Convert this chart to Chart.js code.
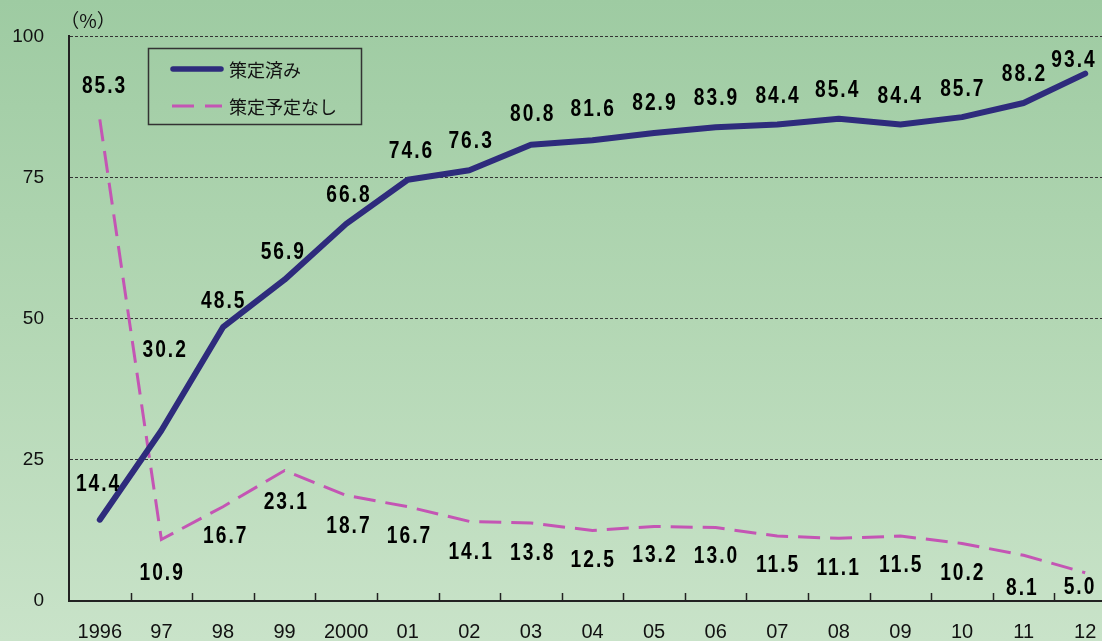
<!DOCTYPE html>
<html lang="ja">
<head>
<meta charset="utf-8">
<script src="https://cdn.jsdelivr.net/npm/chart.js@4"></script>
<style>
  html, body { margin: 0; padding: 0; }
  body {
    width: 1102px; height: 641px; overflow: hidden;
    background: linear-gradient(to bottom, #9ecba2 0%, #b3d7b4 50%, #c9e3c9 100%);
  }
  /* 右端の 2012 年の区画は少しはみ出す */
  #wrap { position: relative; width: 1102px; height: 641px; overflow: hidden; }
</style>
</head>
<body>
<div id="wrap"><canvas id="bcpChart" width="1116" height="641"></canvas></div>
<script>
// 年度ラベル
const years = ['1996', '97', '98', '99', '2000', '01', '02', '03', '04', '05', '06', '07', '08', '09', '10', '11', '12'];
// 策定済み (%)
const doneValues = [14.4, 30.2, 48.5, 56.9, 66.8, 74.6, 76.3, 80.8, 81.6, 82.9, 83.9, 84.4, 85.4, 84.4, 85.7, 88.2, 93.4];
// 策定予定なし (%)
const noPlanValues = [85.3, 10.9, 16.7, 23.1, 18.7, 16.7, 14.1, 13.8, 12.5, 13.2, 13.0, 11.5, 11.1, 11.5, 10.2, 8.1, 5.0];
const yTicks = [0, 25, 50, 75, 100];

// ラベルの位置ずらし (px) — 線と重ならないように個別調整
const doneLabelShift = [[-2, -35], [3, -80], [0, -26], [-2, -27], [2, -28], [3, -28], [1, -29], [1, -30], [0, -31], [0, -30], [0, -29], [0, -28], [-2, -28], [-1, -28], [0, -28], [0, -29], [-12, -13]];
const noPlanLabelShift = [[4, -33], [0, 34], [2, 30], [1, 32], [2, 31], [1, 30], [1, 31], [1, 30], [0, 30], [0, 29], [0, 29], [0, 29], [-1, 30], [0, 29], [0, 30], [-2, 33], [-6, 15]];

const NAVY = '#2e2b7c';
const PINK = '#c455b4';

// 数値ラベルとX軸の内向き目盛りを描く
const labelPlugin = {
    id: 'valueLabels',
    afterDatasetsDraw(chart) {
        const { ctx, chartArea } = chart;
        const xScale = chart.scales.x;
        ctx.save();
        // 内向き目盛り(カテゴリの境目)
        ctx.strokeStyle = '#222';
        ctx.lineWidth = 1.5;
        for (let i = 1; i < years.length; i++) {
            const x = Math.round((xScale.getPixelForValue(i - 1) + xScale.getPixelForValue(i)) / 2) + 0.5;
            ctx.beginPath();
            ctx.moveTo(x, chartArea.bottom);
            ctx.lineTo(x, chartArea.bottom - 8);
            ctx.stroke();
        }
        // 縦長の太字数字(横方向に少し詰める)
        ctx.font = 'bold 24px "Liberation Sans", Arial, sans-serif';
        ctx.letterSpacing = '2.5px';
        ctx.fillStyle = '#000';
        ctx.textAlign = 'center';
        ctx.textBaseline = 'middle';
        const shifts = [doneLabelShift, noPlanLabelShift];
        chart.data.datasets.forEach((ds, di) => {
            chart.getDatasetMeta(di).data.forEach((pt, i) => {
                const [dx, dy] = shifts[di][i];
                ctx.save();
                ctx.translate(pt.x + dx, pt.y + dy);
                ctx.scale(0.8, 1);
                ctx.fillText(ds.data[i].toFixed(1), 1, 0);
                ctx.restore();
            });
        });
        // 単位
        ctx.font = '19px "Noto Sans CJK JP", sans-serif';
        ctx.letterSpacing = '0px';
        ctx.fillStyle = '#111';
        ctx.fillText('（%）', 88, 21);
        ctx.restore();
    }
};

// 凡例(枠付き)
const legendPlugin = {
    id: 'boxLegend',
    afterDraw(chart) {
        const { ctx } = chart;
        ctx.save();
        ctx.strokeStyle = '#333';
        ctx.lineWidth = 1.5;
        ctx.strokeRect(148.5, 48.5, 213, 76);
        ctx.lineCap = 'round';
        ctx.strokeStyle = NAVY;
        ctx.lineWidth = 5.5;
        ctx.beginPath();
        ctx.moveTo(173, 69);
        ctx.lineTo(221, 69);
        ctx.stroke();
        ctx.lineCap = 'butt';
        ctx.strokeStyle = PINK;
        ctx.lineWidth = 3;
        ctx.setLineDash([22, 11]);
        ctx.beginPath();
        ctx.moveTo(172, 106);
        ctx.lineTo(222, 106);
        ctx.stroke();
        ctx.setLineDash([]);
        ctx.fillStyle = '#111';
        ctx.font = '18px "Noto Sans CJK JP", sans-serif';
        ctx.textBaseline = 'middle';
        ctx.fillText('策定済み', 229, 70);
        ctx.fillText('策定予定なし', 229, 107);
        ctx.restore();
    }
};

new Chart(document.getElementById('bcpChart'), {
    type: 'line',
    data: {
        labels: years,
        datasets: [
            {
                label: '策定済み',
                data: doneValues,
                borderColor: NAVY,
                borderWidth: 6,
                borderCapStyle: 'round',
                borderJoinStyle: 'round',
                pointRadius: 0,
                tension: 0,
                fill: false
            },
            {
                label: '策定予定なし',
                data: noPlanValues,
                borderColor: PINK,
                borderWidth: 3,
                borderDash: [22, 10],
                pointRadius: 0,
                tension: 0,
                fill: false
            }
        ]
    },
    options: {
        responsive: false,
        animation: false,
        layout: { padding: { top: 36, right: 0, bottom: 0, left: 0 } },
        plugins: {
            legend: { display: false },
            tooltip: { enabled: false }
        },
        scales: {
            x: {
                offset: true,
                afterFit(axis) { axis.height = 40; },
                grid: { display: false, drawTicks: false },
                border: { color: '#222', width: 2 },
                ticks: {
                    color: '#111',
                    font: { family: '"Liberation Sans", Arial, sans-serif', size: 20 },
                    padding: 19,
                    maxRotation: 0,
                    autoSkip: false
                }
            },
            y: {
                min: 0,
                max: 100,
                afterFit(axis) { axis.width = 69; },
                afterBuildTicks(axis) { axis.ticks = yTicks.map(v => ({ value: v })); },
                grid: {
                    color: '#333',
                    lineWidth: ctx => (ctx.tick && ctx.tick.value === 0 ? 0 : 1),
                    drawTicks: false
                },
                border: { color: '#222', width: 2, dash: [3, 2] },
                ticks: {
                    color: '#111',
                    font: { family: '"Liberation Sans", Arial, sans-serif', size: 19 },
                    padding: 25
                }
            }
        }
    },
    plugins: [labelPlugin, legendPlugin]
});
</script>
</body>
</html>
